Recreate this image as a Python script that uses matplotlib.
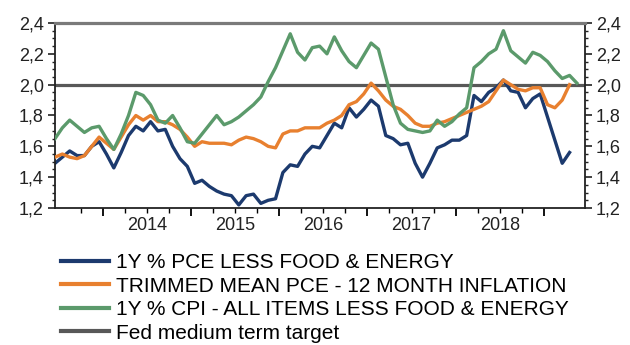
import matplotlib.pyplot as plt
import numpy as np
from matplotlib.ticker import FuncFormatter, MultipleLocator

plt.rcParams['font.family'] = ['Liberation Sans', 'DejaVu Sans']

# Monthly readings, Jun/Jul 2013 onwards (CPI runs one month further)
pce_core = [1.49, 1.53, 1.57, 1.54, 1.54, 1.60, 1.63, 1.55, 1.46, 1.56,
            1.67, 1.73, 1.70, 1.76, 1.70, 1.71, 1.60, 1.52, 1.47, 1.36,
            1.38, 1.34, 1.31, 1.29, 1.28, 1.22, 1.28, 1.29, 1.23, 1.25,
            1.26, 1.43, 1.48, 1.47, 1.55, 1.60, 1.59, 1.67, 1.75, 1.72,
            1.85, 1.79, 1.84, 1.90, 1.86, 1.67, 1.65, 1.61, 1.62, 1.49,
            1.40, 1.49, 1.59, 1.61, 1.64, 1.64, 1.67, 1.93, 1.89, 1.95,
            1.98, 2.03, 1.96, 1.95, 1.85, 1.91, 1.94, 1.79, 1.64, 1.49,
            1.56]

trimmed_mean = [1.53, 1.55, 1.53, 1.52, 1.54, 1.60, 1.66, 1.62, 1.58, 1.66,
                1.74, 1.80, 1.77, 1.80, 1.76, 1.76, 1.74, 1.71, 1.66, 1.60,
                1.63, 1.62, 1.62, 1.62, 1.61, 1.64, 1.66, 1.65, 1.63, 1.60,
                1.59, 1.68, 1.70, 1.70, 1.72, 1.72, 1.72, 1.75, 1.77, 1.80,
                1.87, 1.89, 1.94, 2.01, 1.96, 1.90, 1.86, 1.84, 1.80, 1.75,
                1.73, 1.73, 1.75, 1.76, 1.78, 1.80, 1.82, 1.84, 1.86, 1.89,
                1.96, 2.03, 2.00, 1.97, 1.96, 1.98, 1.98, 1.87, 1.85, 1.90,
                2.00]

cpi_core = [1.65, 1.72, 1.77, 1.73, 1.69, 1.72, 1.73, 1.65, 1.58, 1.68,
            1.80, 1.95, 1.93, 1.87, 1.77, 1.75, 1.80, 1.72, 1.63, 1.62,
            1.68, 1.74, 1.80, 1.74, 1.76, 1.79, 1.83, 1.87, 1.92, 2.02,
            2.11, 2.22, 2.33, 2.21, 2.16, 2.24, 2.25, 2.20, 2.31, 2.22,
            2.15, 2.11, 2.19, 2.27, 2.23, 2.05, 1.87, 1.75, 1.71, 1.70,
            1.69, 1.70, 1.77, 1.73, 1.76, 1.81, 1.85, 2.11, 2.15, 2.20,
            2.23, 2.35, 2.22, 2.18, 2.14, 2.21, 2.19, 2.15, 2.09, 2.04,
            2.06, 2.01]

fed_target = 2.0
years = [2014, 2015, 2016, 2017, 2018]
labels = ['1Y % PCE LESS FOOD & ENERGY',
          'TRIMMED MEAN PCE - 12 MONTH INFLATION',
          '1Y % CPI - ALL ITEMS LESS FOOD & ENERGY',
          'Fed medium term target']

# x is months since the first reading; Jan 2014 falls at 6.5
jan_2014 = 6.5

fig = plt.figure(figsize=(6.3, 3.45), dpi=100)
ax = fig.add_axes([55 / 630, 1 - 208 / 345, 530 / 630, 185 / 345])

ax.axhline(fed_target, color='#585858', lw=2.3, zorder=1)
ax.plot(np.arange(len(pce_core)), pce_core, color='#1c3a6e', lw=2.4, zorder=2)
ax.plot(np.arange(len(trimmed_mean)), trimmed_mean, color='#e8802f', lw=2.4, zorder=3)
ax.plot(np.arange(len(cpi_core)), cpi_core, color='#5b9a6b', lw=2.4, zorder=4)

ax.set_xlim(0, 72.1)
ax.set_ylim(1.2, 2.4)

# y axis: labels on both sides, comma decimals
ax.yaxis.set_major_locator(MultipleLocator(0.2))
ax.yaxis.set_minor_locator(MultipleLocator(0.05))
ax.yaxis.set_major_formatter(FuncFormatter(lambda v, p: f'{v:.1f}'.replace('.', ',')))
ax.tick_params(axis='y', which='both', left=True, right=True,
               labelleft=True, labelright=True, direction='out',
               labelsize=13, colors='#222222', pad=3)
ax.tick_params(axis='y', which='major', length=5, width=1.2)
ax.tick_params(axis='y', which='minor', length=2.5, width=1.0)

# x axis: long ticks at year starts, short ticks each quarter
ax.set_xticks([jan_2014 + 12 * k for k in range(6)])
ax.set_xticks([jan_2014 - 3 + 3 * k for k in range(22)], minor=True)
ax.set_xticklabels([])
ax.tick_params(axis='x', which='major', length=6, width=1.3, direction='out')
ax.tick_params(axis='x', which='minor', length=3.5, width=1.0, direction='out')
for k, yr in enumerate(years):
    ax.text(jan_2014 + 6 + 12 * k, -0.05, str(yr), transform=ax.get_xaxis_transform(),
            ha='center', va='top', fontsize=13, color='#222222')

for side in ['left', 'right', 'bottom']:
    ax.spines[side].set_color('#222222')
    ax.spines[side].set_linewidth(1.3)
ax.spines['top'].set_color('#7a7a7a')
ax.spines['top'].set_linewidth(2.3)

handles = [plt.Line2D([], [], color=c, lw=3)
           for c in ['#1c3a6e', '#e8802f', '#5b9a6b', '#585858']]
fig.legend(handles, labels, loc='upper left', bbox_to_anchor=(61 / 630, 1 - 253 / 345),
           frameon=False, fontsize=15, handlelength=2.3, handletextpad=0.35,
           labelspacing=0.22, borderpad=0, borderaxespad=0)

fig.savefig('out.png', dpi=100)
